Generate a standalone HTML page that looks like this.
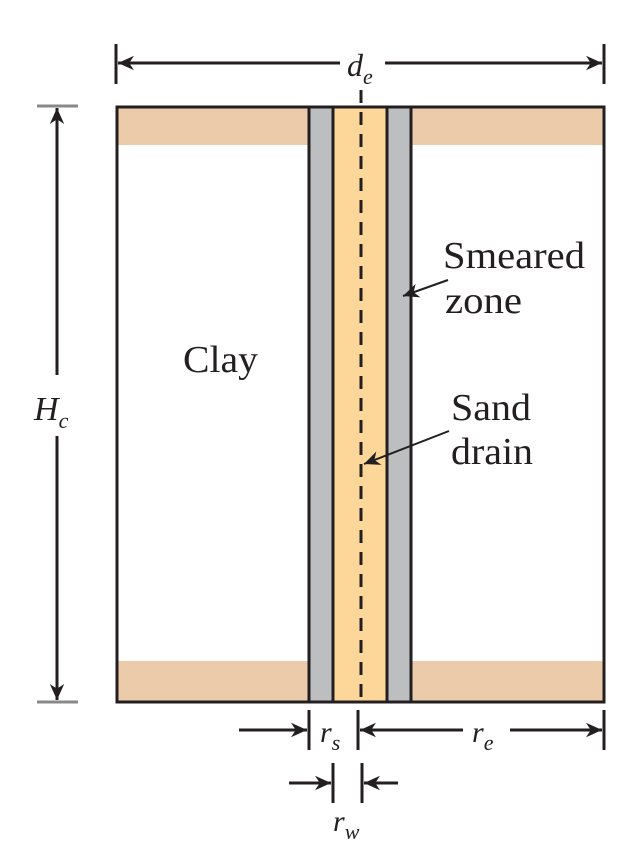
<!DOCTYPE html>
<html><head><style>body{margin:0;background:#fff}svg{display:block}</style></head><body>
<svg width="631" height="860" viewBox="0 0 631 860" xmlns="http://www.w3.org/2000/svg" font-family="'Liberation Serif',serif" fill="#231f20">
<defs>
<marker id="b" viewBox="0 0 10 10" refX="10" refY="5" markerWidth="16" markerHeight="16" markerUnits="userSpaceOnUse" orient="auto"><path d="M0,0.5 L10,5 L0,9.5 L3,5z" fill="#231f20"/></marker>
</defs>
<rect x="117" y="107" width="487" height="38" fill="#ebcba9"/>
<rect x="117" y="661" width="487" height="41" fill="#ebcba9"/>
<rect x="309" y="107" width="24" height="595" fill="#bcbec0"/>
<rect x="387" y="107" width="24" height="595" fill="#bcbec0"/>
<rect x="333" y="107" width="54" height="595" fill="#fdd79a"/>
<g stroke="#231f20" stroke-width="3" fill="none">
<rect x="117" y="107" width="487" height="595"/>
<line x1="309" y1="107" x2="309" y2="702"/>
<line x1="333" y1="107" x2="333" y2="702"/>
<line x1="387" y1="107" x2="387" y2="702"/>
<line x1="411" y1="107" x2="411" y2="702"/>
<line x1="361" y1="90" x2="361" y2="702" stroke-dasharray="13,9"/>
<line x1="116" y1="44" x2="116" y2="84"/>
<line x1="604" y1="44" x2="604" y2="84"/>
<line x1="340" y1="63" x2="118" y2="63" marker-end="url(#b)"/>
<line x1="385" y1="63" x2="602" y2="63" marker-end="url(#b)"/>
<line x1="57" y1="375" x2="57" y2="108" marker-end="url(#b)"/>
<line x1="57" y1="436" x2="57" y2="700" marker-end="url(#b)"/>
<line x1="309" y1="710" x2="309" y2="750"/>
<line x1="358" y1="710" x2="358" y2="750"/>
<line x1="604" y1="710" x2="604" y2="750"/>
<line x1="239" y1="730" x2="307" y2="730" marker-end="url(#b)"/>
<line x1="463" y1="730" x2="360" y2="730" marker-end="url(#b)"/>
<line x1="510" y1="730" x2="602" y2="730" marker-end="url(#b)"/>
<line x1="333" y1="763" x2="333" y2="803"/>
<line x1="362" y1="763" x2="362" y2="803"/>
<line x1="289" y1="783" x2="331" y2="783" marker-end="url(#b)"/>
<line x1="398" y1="783" x2="364" y2="783" marker-end="url(#b)"/>
<line x1="448" y1="280" x2="403" y2="296" stroke-width="2" marker-end="url(#b)"/>
<line x1="449" y1="431" x2="364" y2="464" stroke-width="2" marker-end="url(#b)"/>
</g>
<g stroke="#888" stroke-width="3"><line x1="37" y1="106" x2="78" y2="106"/><line x1="37" y1="702" x2="78" y2="702"/></g>
<g font-size="38" lengthAdjust="spacingAndGlyphs">
<text x="183" y="372" textLength="75" lengthAdjust="spacingAndGlyphs">Clay</text>
<text x="443" y="268" textLength="142" lengthAdjust="spacingAndGlyphs">Smeared</text>
<text x="445" y="313" textLength="77" lengthAdjust="spacingAndGlyphs">zone</text>
<text x="451" y="420" textLength="80" lengthAdjust="spacingAndGlyphs">Sand</text>
<text x="451" y="464" textLength="82" lengthAdjust="spacingAndGlyphs">drain</text>
</g>
<g font-style="italic">
<text x="347" y="76" font-size="32">d<tspan font-size="22" dy="8">e</tspan></text>
<text x="34" y="420" font-size="34">H<tspan font-size="22" dy="8">c</tspan></text>
<text x="320" y="742" font-size="30">r<tspan font-size="22" dy="8">s</tspan></text>
<text x="472" y="742" font-size="30">r<tspan font-size="22" dy="8">e</tspan></text>
<text x="333" y="831" font-size="30">r<tspan font-size="22" dy="8">w</tspan></text>
</g>
</svg>
</body></html>
